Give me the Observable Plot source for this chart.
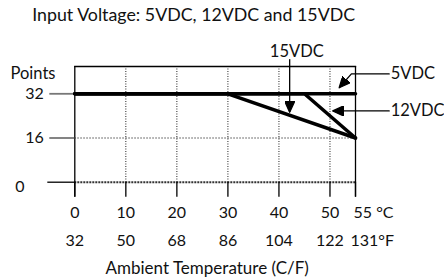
<!DOCTYPE html>
<html><head><meta charset="utf-8">
<script src="https://cdn.jsdelivr.net/npm/d3@7"></script>
<script src="https://cdn.jsdelivr.net/npm/@observablehq/plot@0.6"></script>
<style>body{margin:0;background:#fff;} svg{display:block}</style>
</head><body><div id="chart"></div>
<script>
// ---- data ----
const tempC = [0, 10, 20, 30, 40, 50, 55];
const tempF = [32, 50, 68, 86, 104, 122, 131];
const yTicks = [0, 16, 32];
const seriesNames = ["5VDC", "12VDC", "15VDC"];
const temp5 = [0, 55],      pts5 = [32, 32];
const temp12 = [0, 45, 55], pts12 = [32, 32, 16];
const temp15 = [0, 30, 55], pts15 = [32, 32, 16];
// annotation callouts (in temperature / points units)
const labelTemp = [61.9, 61.9, 43.5];
const labelPts = [39.2, 25.9, 47.1];
const arrowTemp = [[61.6, 54.2, 51.8], [61.6, 50.5], [42.1, 42.1]];
const arrowPts = [[39.2, 39.2, 34.2], [25.8, 25.8], [44.4, 25.3]];
const titleText = "Input Voltage: 5VDC, 12VDC and 15VDC";
const yTitle = "Points";
const xTitle = "Ambient Temperature (C/F)";

// ---- tables ----
const seriesRows = [
  ...temp5.map((t, i) => ({name: "5VDC", t, p: pts5[i]})),
  ...temp12.map((t, i) => ({name: "12VDC", t, p: pts12[i]})),
  ...temp15.map((t, i) => ({name: "15VDC", t, p: pts15[i]}))
];
const arrowRows = seriesNames.flatMap((name, k) => arrowTemp[k].map((t, i) => ({name, t, p: arrowPts[k][i]})));
const labelRows = seriesNames.map((name, k) => ({name, t: labelTemp[k], p: labelPts[k]}));
const cRows = tempC.map((t, i) => ({t, label: i === tempC.length - 1 ? `${t} °C` : `${t}`, last: i === tempC.length - 1}));
const fRows = tempC.map((t, i) => ({t, label: i === tempC.length - 1 ? `${tempF[i]}°F` : `${tempF[i]}`, last: i === tempC.length - 1}));

const ns = "http://www.w3.org/2000/svg";
function headMarker(color) {
  const m = document.createElementNS(ns, "marker");
  m.setAttribute("viewBox", "-11 -5 11 10");
  m.setAttribute("markerWidth", 11);
  m.setAttribute("markerHeight", 10);
  m.setAttribute("markerUnits", "userSpaceOnUse");
  m.setAttribute("orient", "auto");
  m.setAttribute("refX", 0);
  m.setAttribute("refY", 0);
  const p = document.createElementNS(ns, "path");
  p.setAttribute("d", "M-11,-5L0,0L-11,5Z");
  p.setAttribute("fill", "#000");
  m.appendChild(p);
  return m;
}

const font = "Lato, 'Open Sans', sans-serif";
const chart = Plot.plot({
  width: 444, height: 279,
  marginLeft: 74.3, marginRight: 89, marginTop: 66, marginBottom: 97.3,
  style: {fontFamily: font, fontSize: "16px", color: "#111", background: "#fff", overflow: "visible"},
  x: {domain: [0, 55], axis: null},
  y: {domain: [0, 32], range: [181.7, 93.3], axis: null},
  marks: [
    Plot.ruleY([16], {stroke: "#888", strokeWidth: 1.3, strokeDasharray: "1.5,1.5"}),
    Plot.ruleX(tempC.slice(1, -1), {stroke: "#222", strokeWidth: 1, strokeDasharray: "1,1.5"}),
    Plot.ruleY([0], {stroke: "#333", strokeWidth: 2, strokeDasharray: "2,1"}),
    Plot.ruleX(tempC, {y: 0, insetBottom: -15, stroke: "#000", strokeWidth: 1.3}),
    Plot.ruleX([0, 55], {insetBottom: -15, stroke: "#000", strokeWidth: 1.3}),
    Plot.frame({anchor: "top", stroke: "#000", strokeWidth: 1.3}),
    Plot.ruleY([32, 16], {x: 0, insetLeft: -25, stroke: "#777", strokeWidth: 1.8}),
    Plot.ruleY([0], {x: 0, insetLeft: -27, stroke: "#000", strokeWidth: 1.3}),
    Plot.line(seriesRows, {x: "t", y: "p", z: "name", stroke: "#000", strokeWidth: 3.5, strokeLinejoin: "miter"}),
    Plot.line(arrowRows, {x: "t", y: "p", z: "name", stroke: "#000", strokeWidth: 1.3, markerEnd: headMarker}),
    Plot.text(labelRows.slice(0, 2), {x: "t", y: "p", text: "name", textAnchor: "start", lineAnchor: "middle", fill: "#111", fontSize: 16.5}),
    Plot.text(labelRows.slice(2), {x: "t", y: "p", text: "name", textAnchor: "middle", lineAnchor: "middle", fill: "#111", fontSize: 16.5}),
    // y tick labels
    Plot.text(yTicks.slice(1), {x: 0, y: d => d, text: d => `${d}`, dx: -31, textAnchor: "end", lineAnchor: "middle"}),
    Plot.text(yTicks.slice(0, 1), {x: 0, y: d => d, text: d => `${d}`, dx: -55, dy: 5, textAnchor: "middle", lineAnchor: "middle"}),
    // x tick labels
    Plot.text(cRows.filter(d => !d.last), {x: "t", y: 0, text: "label", dy: 30.8, textAnchor: "middle", lineAnchor: "middle"}),
    Plot.text(cRows.filter(d => d.last), {x: "t", y: 0, text: "label", dx: -2, dy: 30.8, textAnchor: "start", lineAnchor: "middle"}),
    Plot.text(fRows.filter(d => !d.last), {x: "t", y: 0, text: "label", dy: 59, textAnchor: "middle", lineAnchor: "middle"}),
    Plot.text(fRows.filter(d => d.last), {x: "t", y: 0, text: "label", dx: -5, dy: 59, textAnchor: "start", lineAnchor: "middle"}),
    // titles
    Plot.text([titleText], {frameAnchor: "top-left", text: d => d, dx: -42.6, dy: -50.8, textAnchor: "start", lineAnchor: "middle", fontSize: 17.8}),
    Plot.text([yTitle], {frameAnchor: "top-left", text: d => d, dx: -64.3, dy: 7.5, textAnchor: "start", lineAnchor: "middle", fontSize: 16.5}),
    Plot.text([xTitle], {frameAnchor: "top-left", text: d => d, dx: 132.4, dy: 202, textAnchor: "middle", lineAnchor: "middle", fontSize: 17})
  ]
});
document.getElementById("chart").appendChild(chart);
</script>
</body></html>
